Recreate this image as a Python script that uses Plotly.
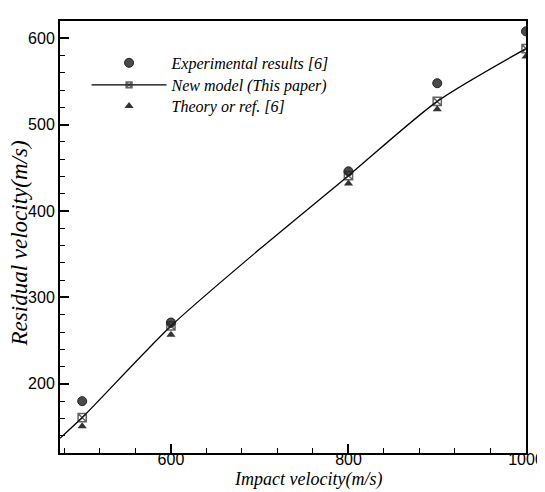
import plotly.graph_objects as go

# Data
impact = [500, 600, 800, 900, 1000]
experimental = [180, 271, 446, 548, 608]
new_model = [161, 267, 441, 527, 588]
theory = [151, 257, 432, 518, 579]

# New-model curve as drawn (extends to the left axis)
curve_x = [475, 500, 600, 700, 800, 900, 1000]
curve_y = [137, 161, 267, 356, 441, 527, 588]
curve_marker_size = [0, 8.2, 8.2, 0, 8.2, 8.2, 8.2]

x_range = [475, 1000]
y_range = [120, 620]

x_title = "Impact velocity(m/s)"
y_title = "Residual velocity(m/s)"

serif_it = dict(family="Liberation Serif", style="italic", color="black")

fig = go.Figure()
fig.add_trace(go.Scatter(
    x=impact, y=experimental, mode="markers", name="Experimental results [6]",
    legend="legend",
    marker=dict(symbol="circle", size=9, color="#4a4a4a",
                line=dict(color="#222", width=1)),
))
fig.add_trace(go.Scatter(
    x=curve_x, y=curve_y, mode="lines+markers", name="New model (This paper)",
    legend="legend2",
    line=dict(color="black", width=1.3, shape="spline", smoothing=0.7),
    marker=dict(symbol="square-x-open", size=curve_marker_size, color="#222",
                line=dict(width=1.5)),
))
fig.add_trace(go.Scatter(
    x=impact, y=theory, mode="markers", name="Theory or ref. [6]",
    legend="legend3",
    marker=dict(symbol="triangle-up", size=8, color="#333"),
))

axis_common = dict(
    showgrid=False, zeroline=False, showline=True, linecolor="black",
    linewidth=2, mirror=True, ticks="inside", tickcolor="black",
    tickwidth=2, ticklen=9, automargin=False,
    tickfont=dict(family="Liberation Sans", size=16, color="black"),
)

fig.update_xaxes(
    range=x_range, dtick=200, tick0=0, ticklabelstandoff=-9,
    minor=dict(dtick=40, ticks="inside", ticklen=5, tickwidth=1, tickcolor="black"),
    **axis_common,
)
fig.update_yaxes(
    range=y_range, dtick=100, tick0=0,
    minor=dict(dtick=20, ticks="inside", ticklen=5, tickwidth=1, tickcolor="black"),
    **axis_common,
)

# axis titles as paper-positioned text
fig.add_annotation(text=x_title, xref="paper", yref="paper", x=0.532, y=-0.0324,
                   xanchor="center", yanchor="top", showarrow=False,
                   font=dict(size=18, **serif_it))
fig.add_annotation(text=y_title, xref="paper", yref="paper", x=-0.088, y=0.485,
                   xanchor="center", yanchor="middle", textangle=-90, showarrow=False,
                   font=dict(size=23, **serif_it))

legend_common = dict(
    x=0.057, xanchor="left", yanchor="middle",
    font=dict(size=16, **serif_it),
    itemwidth=75, bgcolor="rgba(0,0,0,0)",
)

# the page body adds an 8px offset, so the figure is sized to fit inside it
fig.update_layout(
    width=537, height=484,
    margin=dict(l=52, r=19, t=13, b=39),
    paper_bgcolor="white", plot_bgcolor="white",
    showlegend=True,
    legend=dict(y=0.903, **legend_common),
    legend2=dict(y=0.852, **legend_common),
    legend3=dict(y=0.803, **legend_common),
)

fig.write_html("out.html")
